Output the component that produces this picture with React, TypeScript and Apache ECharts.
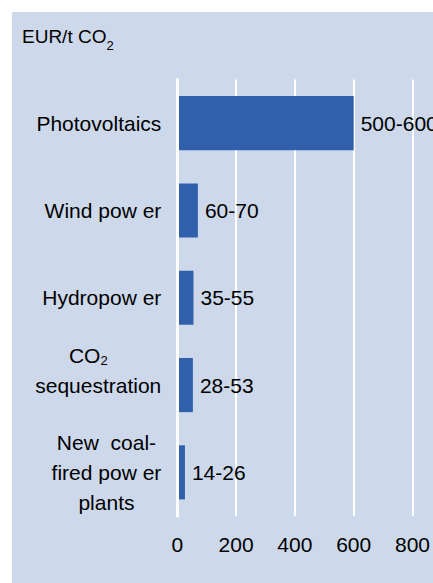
import React, { useEffect, useRef } from "react";
import * as echarts from "echarts";

const categories = [
  "Photovoltaics",
  "Wind pow er",
  "Hydropow er",
  "CO2\nsequestration\n ",
  "New  coal-\nfired pow er\nplants",
];
const lowValues = [500, 60, 35, 28, 14];
const highValues = [600, 70, 55, 53, 26];
const xTicks = [0, 200, 400, 600, 800];

const FONT = "'Liberation Sans', Arial, sans-serif";

function formatCategory(v: string): string {
  return v
    .split("\n")
    .map((line) => {
      if (line.startsWith("CO2")) return "{a|CO}{s|2}";
      return "{a|" + line + "}";
    })
    .join("\n");
}

export default function App() {
  const ref = useRef<HTMLDivElement>(null);
  useEffect(() => {
    document.body.style.margin = "0";
    if (!ref.current) return;
    const chart = echarts.init(ref.current, null, { renderer: "svg" });
    chart.setOption({
      animation: false,
      backgroundColor: "#cdd8ea",
      title: {
        text: "{a|EUR/t CO}{s|2}",
        left: 10,
        top: 15,
        padding: 0,
        textStyle: {
          fontWeight: "normal",
          rich: {
            a: { fontSize: 19, fontFamily: FONT, fontWeight: "normal", color: "#000", lineHeight: 22, verticalAlign: "top" },
            s: { fontSize: 13, fontFamily: FONT, fontWeight: "normal", color: "#000", lineHeight: 14, verticalAlign: "top", padding: [12, 0, 0, 0] },
          },
        },
      },
      grid: { left: 165.3, right: 17.3, top: 67.5, bottom: 67, containLabel: false },
      xAxis: {
        type: "value",
        min: xTicks[0],
        max: xTicks[xTicks.length - 1],
        interval: 200,
        axisLine: { show: false },
        axisTick: { show: false },
        splitLine: { show: true, lineStyle: { color: "#ffffff", width: 2 } },
        axisLabel: { fontSize: 21, fontFamily: FONT, color: "#000", margin: 18 },
      },
      yAxis: {
        type: "category",
        data: categories,
        inverse: true,
        z: 3,
        axisLine: { show: true, lineStyle: { color: "#ffffff", width: 3 } },
        axisTick: { show: false },
        splitLine: { show: false },
        axisLabel: {
          margin: 16,
          fontSize: 21,
          fontFamily: FONT,
          color: "#000",
          interval: 0,
          formatter: (v: string) => formatCategory(v),
          rich: {
            a: { fontSize: 21, fontFamily: FONT, color: "#000", lineHeight: 30, align: "center" },
            s: { fontSize: 13, fontFamily: FONT, color: "#000", lineHeight: 14, align: "center", verticalAlign: "top", padding: [14, 20, 0, 0] },
          },
        },
      },
      series: [
        {
          type: "bar",
          data: highValues,
          barCategoryGap: "38%",
          itemStyle: { color: "#3060ac" },
          label: {
            show: true,
            position: "right",
            distance: 7,
            fontSize: 21,
            fontFamily: FONT,
            color: "#000",
            formatter: (p: any) => lowValues[p.dataIndex] + "-" + highValues[p.dataIndex],
          },
        },
      ],
    });
    return () => chart.dispose();
  }, []);
  return (
    <div style={{ position: "relative", width: 433, height: 583, background: "#ffffff", overflow: "hidden" }}>
      <div ref={ref} style={{ position: "absolute", left: 12, top: 12, width: 421, height: 571 }} />
    </div>
  );
}
